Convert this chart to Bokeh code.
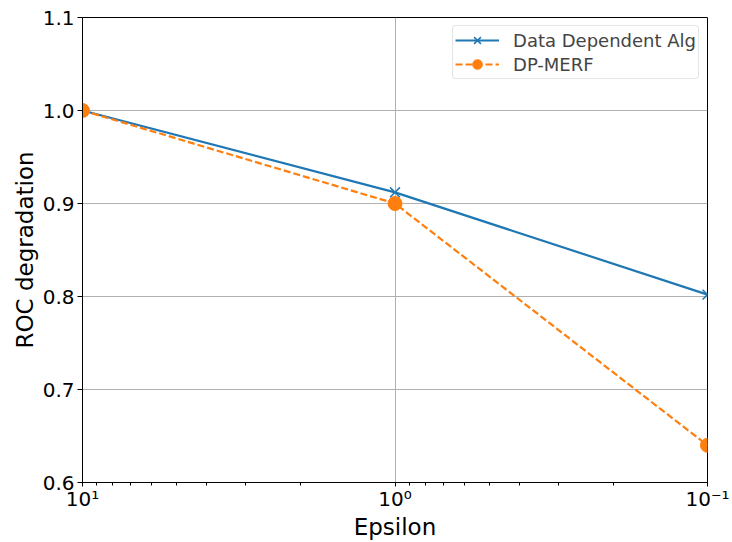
from bokeh.plotting import figure
from bokeh.models import Range1d, FixedTicker, Legend, LegendItem, PrintfTickFormatter
from bokeh.embed import file_html
from bokeh.resources import INLINE

epsilon = [10, 1, 0.1]
data_dep = [1.0, 0.912, 0.802]
dp_merf = [1.0, 0.9, 0.64]
x_ticks = [0.1, 1, 10]
x_minor = [0.2, 0.3, 0.4, 0.5, 0.6, 0.7, 0.8, 0.9, 2, 3, 4, 5, 6, 7, 8, 9]
x_tick_labels = {10: "10¹", 1: "10⁰", 0.1: "10⁻¹"}
y_ticks = [0.6, 0.7, 0.8, 0.9, 1.0, 1.1]

FONT = "DejaVu Sans"

p = figure(width=730, height=542, x_axis_type="log",
           x_range=Range1d(10, 0.1), y_range=Range1d(0.6, 1.1),
           output_backend="svg", toolbar_location=None,
           min_border_left=82, min_border_right=23, min_border_top=17, min_border_bottom=55)

p.outline_line_color = "black"
p.outline_line_width = 1
p.background_fill_color = "white"

p.xaxis.ticker = FixedTicker(ticks=x_ticks, minor_ticks=x_minor)
p.xaxis.major_label_overrides = x_tick_labels
p.yaxis.ticker = FixedTicker(ticks=y_ticks)
p.yaxis.formatter = PrintfTickFormatter(format="%.1f")

for ax in (p.xaxis[0], p.yaxis[0]):
    ax.axis_line_color = "black"
    ax.major_tick_line_color = "black"
    ax.minor_tick_line_color = "black"
    ax.major_tick_out = 5
    ax.major_tick_in = 0
    ax.minor_tick_out = 3
    ax.minor_tick_in = 0
    ax.major_label_text_font = FONT
    ax.major_label_text_font_size = "20px"
    ax.major_label_text_color = "black"
    ax.axis_label_text_font = FONT
    ax.axis_label_text_font_size = "23px"
    ax.axis_label_text_font_style = "normal"
    ax.axis_label_text_color = "black"
    ax.major_label_standoff = 3
    ax.axis_label_standoff = 2
p.yaxis.minor_tick_line_color = None
p.xaxis.major_label_standoff = 0
p.xaxis.axis_label_standoff = 0
p.xaxis.major_tick_out = 4

p.xaxis.axis_label = "Epsilon"
p.yaxis.axis_label = "ROC degradation"

p.xgrid.grid_line_color = "#b0b0b0"
p.ygrid.grid_line_color = "#b0b0b0"
p.xgrid.grid_line_width = 1
p.ygrid.grid_line_width = 1

l1 = p.line(epsilon, data_dep, line_color="#1f77b4", line_width=2.2)
m1 = p.scatter(epsilon, data_dep, marker="x", size=14, line_color="#1f77b4", line_width=1.5)
l2 = p.line(epsilon, dp_merf, line_color="#ff7f0e", line_width=2.2, line_dash="7 3")
m2 = p.scatter(epsilon, dp_merf, marker="circle", size=14, fill_color="#ff7f0e", line_color="#ff7f0e")

legend = Legend(items=[LegendItem(label="Data Dependent Alg", renderers=[l1, m1]),
                       LegendItem(label="DP-MERF", renderers=[l2, m2])],
                location="top_right")
legend.label_text_font = FONT
legend.label_text_font_size = "18px"
legend.label_height = 18
legend.glyph_height = 24
legend.glyph_width = 44
legend.spacing = 0
legend.padding = 2
legend.margin = 8
legend.label_standoff = 14
legend.border_line_color = "#cccccc"
legend.border_line_width = 1
legend.background_fill_alpha = 0.8
legend.border_radius = 4
p.add_layout(legend)

open("out.html", "w").write(file_html(p, INLINE))
